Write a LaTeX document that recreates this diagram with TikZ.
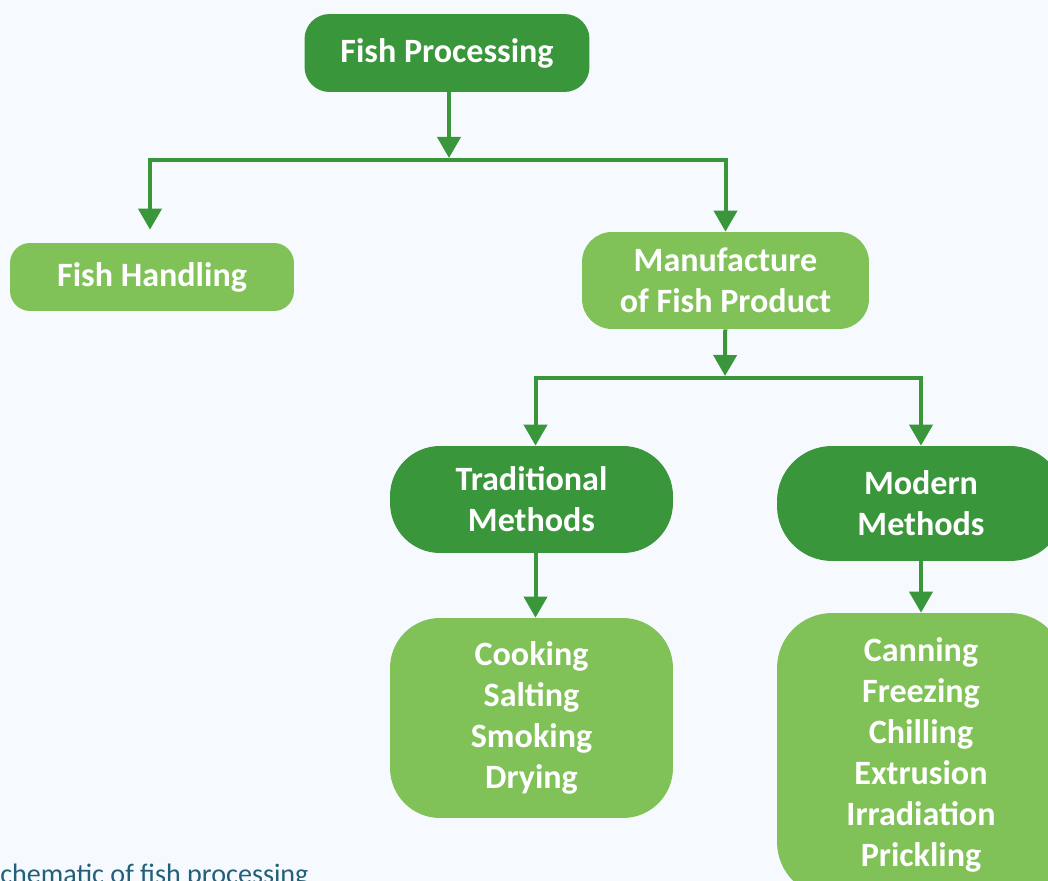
\documentclass[tikz,border=0pt]{standalone}
\usepackage{fontspec}
\setmainfont{Carlito}
\usepackage{xcolor}
\usetikzlibrary{arrows.meta,positioning}
\definecolor{darkgreen}{RGB}{58,150,58}
\definecolor{lightgreen}{RGB}{129,194,88}
\definecolor{pagebg}{RGB}{246,250,254}
\definecolor{captext}{RGB}{35,95,120}

\begin{document}
\begin{tikzpicture}[
    x=0.02cm, y=-0.02cm,
    darkbox/.style={fill=darkgreen, text=white, align=center, inner sep=0pt, font=\bfseries\fontsize{19.4}{23.4}\selectfont},
    lightbox/.style={fill=lightgreen, text=white, align=center, inner sep=0pt, font=\bfseries\fontsize{19.4}{23.4}\selectfont},
    arrow/.style={-{Triangle[width=0.46cm,length=0.42cm]}, line width=0.08cm, draw=darkgreen},
    caption/.style={text=captext, inner sep=0pt, font=\fontsize{16}{18}\selectfont}
]
\clip (0,0) rectangle (1048,881);
\fill[pagebg] (0,0) rectangle (1048,881);

\node[darkbox, rounded corners=0.5cm, minimum width=5.7cm, minimum height=1.56cm] (proc) at (447,53) {Fish Processing};
\node[lightbox, rounded corners=0.4cm, minimum width=5.68cm, minimum height=1.36cm] (handling) at (152,277) {Fish Handling};
\node[lightbox, rounded corners=0.6cm, minimum width=5.74cm, minimum height=1.94cm] (manuf) at (725.5,280.5) {Manufacture\\of Fish Product};
\node[darkbox, rounded corners=1.0cm, minimum width=5.66cm, minimum height=2.14cm] (trad) at (531.5,499.5) {Traditional\\Methods};
\node[darkbox, rounded corners=1.1cm, minimum width=5.76cm, minimum height=2.3cm] (modern) at (921,503.5) {Modern\\Methods};
\node[lightbox, rounded corners=1.0cm, minimum width=5.66cm, minimum height=4.0cm] (tradlist) at (531.5,718) {Cooking\\Salting\\Smoking\\Drying};
\node[lightbox, rounded corners=1.1cm, minimum width=5.76cm, minimum height=5.68cm] (modlist) at (921,755) {Canning\\Freezing\\Chilling\\Extrusion\\Irradiation\\Prickling};
\node[caption, anchor=base west] (cap) at (-13,883) {Schematic of fish processing};

\coordinate (split1) at (449,160);
\coordinate (split2) at (725,378);

\draw[arrow, shorten >=0.04cm] (proc.south -| split1) -- (split1);
\draw[arrow, shorten >=0.26cm] (split1) -| ([xshift=-0.04cm]handling.north);
\draw[arrow] (split1) -| (manuf.north);
\draw[arrow, shorten >=0.04cm] (manuf) -- (split2);
\draw[arrow] (split2) -| ([xshift=0.08cm]trad.north);
\draw[arrow] (split2) -| (modern.north);
\draw[arrow] ([xshift=0.08cm]trad.south) -- ([xshift=0.08cm]tradlist.north);
\draw[arrow] (modern) -- (modlist);
\end{tikzpicture}
\end{document}
